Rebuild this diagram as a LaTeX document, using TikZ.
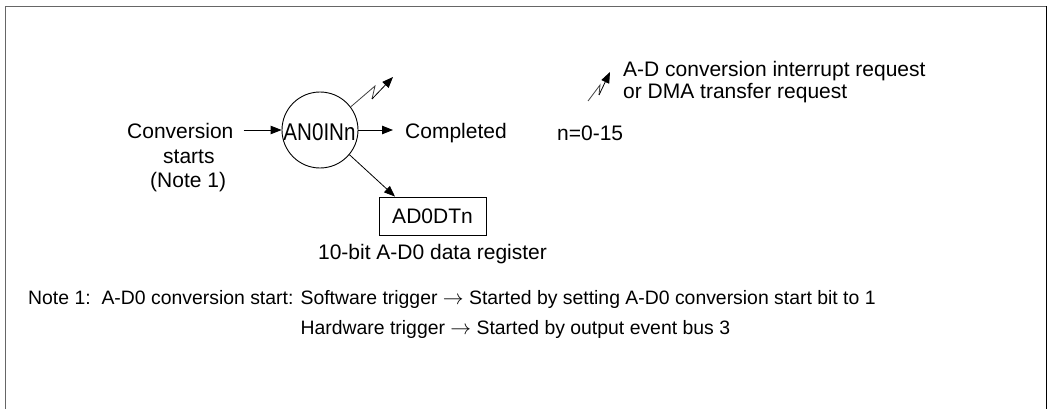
\documentclass[tikz,border=0pt]{standalone}
\usepackage{fontspec}
\setmainfont{Liberation Sans}
\usetikzlibrary{arrows.meta}
\begin{document}
\begin{tikzpicture}[x=1pt,y=-1pt,
  txt/.style={inner sep=0pt,anchor=base west,font=\fontsize{21}{24}\selectfont},
  notetxt/.style={inner sep=0pt,anchor=base west,align=left,font=\fontsize{19.4}{30}\selectfont},
  arr/.style={line width=0.9pt,-{Triangle[length=11pt,width=8.5pt]}},
  bolt/.style={line width=0.8pt,black!75},
  boxstyle/.style={draw,line width=0.9pt,minimum width=107pt,minimum height=38pt,inner sep=0pt,font=\fontsize{21}{24}\selectfont}]
\useasboundingbox (0,0) rectangle (1049,409);
% frame (open at bottom)
\draw[line width=1.6pt,black!60] (5.5,409) -- (5.5,6.5) -- (1046.5,6.5);
\draw[line width=1.6pt,black] (1046.5,6.5) -- (1046.5,409);
% conversion start text
\node[txt] (conv) at (127,139) {Conversion};
\node[txt] (starts) at (163,163) {starts};
\node[txt] (note1) at (150,187) {(Note 1)};
% AN0INn circle
\node[circle,draw,line width=0.9pt,minimum size=76pt,inner sep=0pt] (circ) at (320,130) {};
\node[inner sep=0pt,anchor=base,font=\fontsize{21}{24}\selectfont] (ain) at (319.5,140) {\scalebox{0.98}[1.15]{AN0INn}};
% completed
\node[txt] (comp) at (405,139) {Completed};
% register box
\node[boxstyle] (box) at (432.5,216) {AD0DTn};
\node[txt,anchor=base] (reg) at (432.5,259) {10-bit A-D0 data register};
% legend
\node[txt] (leg1) at (623,77) {A-D conversion interrupt request};
\node[txt] (leg2) at (623,99) {or DMA transfer request};
\node[txt] (nrange) at (557,141) {n=0-15};
% note
\node[notetxt] (note) at (28,334) {Note 1:\ \ A-D0 conversion start: Software trigger $\rightarrow$ Started by setting A-D0 conversion start bit to 1\\
\phantom{Note 1:\ \ A-D0 conversion start: }Hardware trigger $\rightarrow$ Started by output event bus 3};
% connectors
\draw[arr,shorten <=10pt] (conv.east |- circ.west) -- (circ.west);
\draw[arr,shorten >=12pt] (circ.east) -- (comp.west |- circ.east);
\draw[arr,line width=0.8pt] (circ.-40) -- ([xshift=-37.5pt]box.north);
% lightning from circle
\coordinate (b1) at (375,86);
\coordinate (b2) at (372,99);
\coordinate (b3) at (393,77);
\draw[bolt] (circ.37) -- (b1) -- (b2);
\draw[arr,line width=0.8pt] (b2) -- (b3);
% legend lightning
\coordinate (l0) at (588,101);
\coordinate (l1) at (600,85);
\coordinate (l2) at (599,95);
\coordinate (l3) at (610,72);
\draw[bolt] (l0) -- (l1) -- (l2);
\draw[arr,line width=0.8pt] (l2) -- (l3);
\end{tikzpicture}
\end{document}
